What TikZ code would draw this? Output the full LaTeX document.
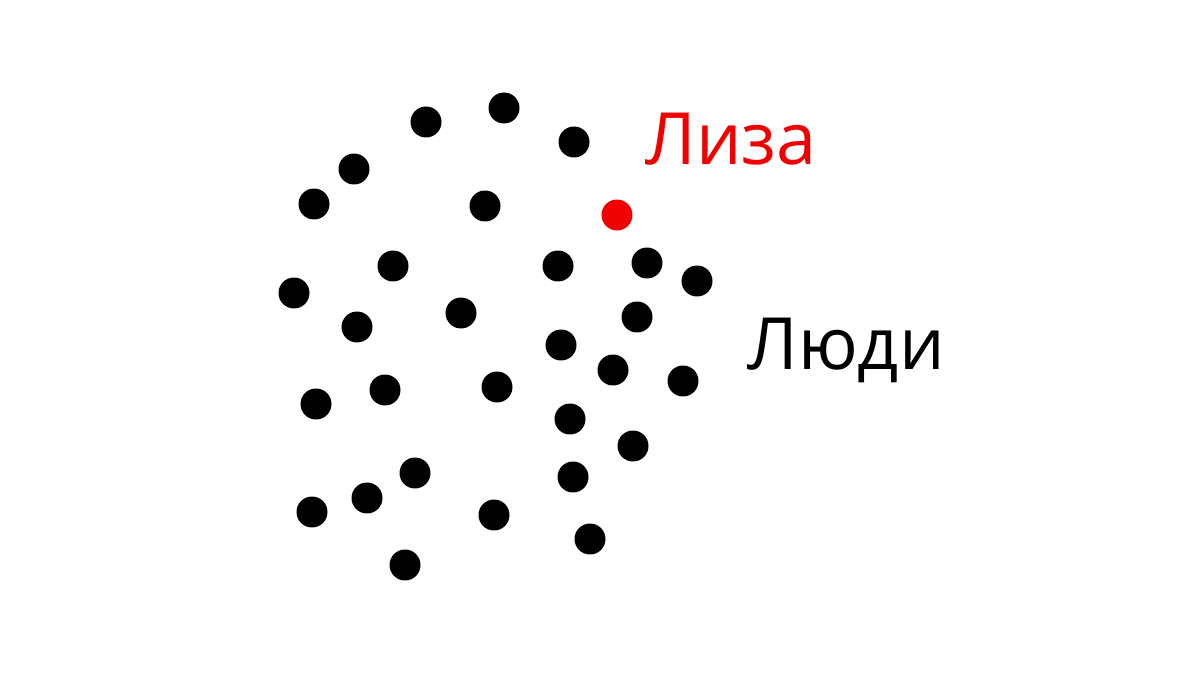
\documentclass[tikz,border=0pt]{standalone}
\usepackage{fontspec}
\setmainfont{Open Sans}
\usepackage{tikz}
\usetikzlibrary{positioning}
\definecolor{lizared}{RGB}{240,0,0}
\tikzset{dot/.style={circle, fill=black, inner sep=0pt, minimum size=0.62cm}}
\tikzset{bigtext/.style={inner sep=0pt, anchor=base west, font=\fontsize{41}{41}\selectfont}}

\begin{document}
\begin{tikzpicture}[x=0.02cm, y=-0.02cm]
  \useasboundingbox (0,0) rectangle (1200,675);

  \foreach \x/\y [count=\i] in {426/122, 504/108, 574/142, 354/169, 314/204,
      485/206, 393/266, 558/266, 647/263, 697/281, 294/293, 461/313,
      357/327, 637/317, 561/345, 613/370, 683/381, 316/404, 385/390,
      497/387, 570/419, 633/446, 415/473, 573/477, 312/512, 367/498,
      494/515, 590/539, 405/565}
    \node[dot] (p\i) at (\x,\y) {};

  \node[dot, fill=lizared] (liza) at (617,215) {};

  \node[bigtext, text=lizared] (lizalabel) at (645,165) {Лиза};
  \node[bigtext] (people) at (747,370) {Люди};
\end{tikzpicture}
\end{document}
